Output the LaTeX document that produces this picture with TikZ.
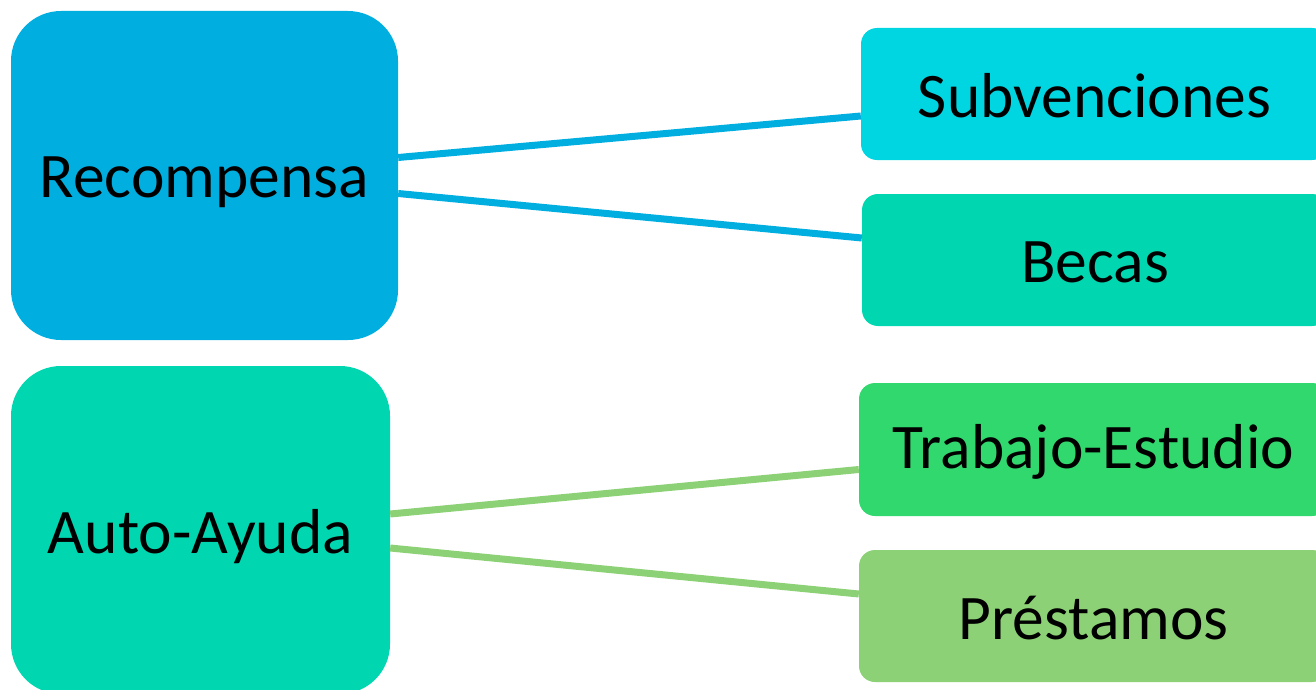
\documentclass[tikz,border=0pt]{standalone}
\usepackage{fontspec}
\setmainfont{Carlito}
\definecolor{cblue}{RGB}{0,174,224}
\definecolor{ccyan}{RGB}{0,214,226}
\definecolor{cteal}{RGB}{0,214,176}
\definecolor{cgreen}{RGB}{49,216,110}
\definecolor{clight}{RGB}{141,209,118}
\newcommand{\lowertext}[2]{\raisebox{0pt}[\dimexpr\height+#1\relax]{#2}}
\begin{document}
\begin{tikzpicture}[x=1pt,y=-1pt,
  bigbox/.style={rounded corners=50pt, inner sep=0pt, text=black,
    font=\fontsize{63.5}{74}\selectfont},
  smallbox/.style={rounded corners=16pt, inner sep=0pt, text=black,
    font=\fontsize{63.5}{74}\selectfont},
  link/.style={line width=7pt}]
\useasboundingbox (0,0) rectangle (1316,690);
\node[bigbox, fill=cblue, minimum width=387pt, minimum height=329pt] (rec) at (204.5,175.5) {\lowertext{14pt}{Recompensa}};
\node[bigbox, fill=cteal, minimum width=379pt, minimum height=328pt] (auto) at (200.5,530) {\lowertext{14pt}{Auto-Ayuda}};
\node[smallbox, fill=ccyan, minimum width=467pt, minimum height=132pt] (sub) at (1094.5,94) {\lowertext{4pt}{Subvenciones}};
\node[smallbox, fill=cteal, minimum width=466pt, minimum height=132pt] (bec) at (1095,260) {\lowertext{4pt}{Becas}};
\node[smallbox, fill=cgreen, minimum width=469pt, minimum height=133pt] (trab) at (1093.5,449.5) {\lowertext{4pt}{Trabajo-Estudio}};
\node[smallbox, fill=clight, minimum width=469pt, minimum height=132pt] (pres) at (1093.5,616) {\lowertext{4pt}{Préstamos}};
\draw[link, cblue] ([yshift=18pt]rec.east) -- ([yshift=-22pt]sub.west);
\draw[link, cblue] ([yshift=-18pt]rec.east) -- ([yshift=22pt]bec.west);
\draw[link, clight] ([yshift=16pt]auto.east) -- ([yshift=-20pt]trab.west);
\draw[link, clight] ([yshift=-18pt]auto.east) -- ([yshift=22pt]pres.west);
\end{tikzpicture}
\end{document}
